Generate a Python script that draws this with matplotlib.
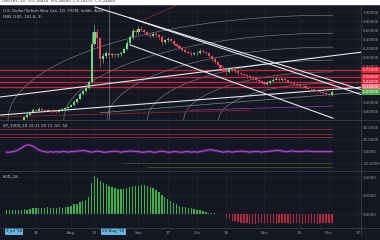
import numpy as np
import pandas as pd
import matplotlib
matplotlib.use('Agg')
import matplotlib.pyplot as plt
from matplotlib.lines import Line2D
from matplotlib.patches import Rectangle

# USD/TRY daily candles, 2 Jul 2018 .. 4 Dec 2018
close_px = [4.56, 4.58, 4.57, 4.59, 4.58, 4.61, 4.66, 4.72, 4.78, 4.83, 4.81, 4.85, 4.83, 4.80, 4.82, 4.79,
            4.81, 4.78, 4.81, 4.84, 4.86, 4.89,
            4.93, 5.00, 5.07, 5.18, 5.25, 5.31, 5.44, 6.30, 6.55, 6.42, 5.95, 6.02, 6.08, 6.05, 6.07, 6.04,
            6.06, 6.10, 6.18, 6.32, 6.45, 6.58, 6.55,
            6.62, 6.60, 6.55, 6.50, 6.47, 6.52, 6.49, 6.45, 6.33, 6.37, 6.40, 6.36, 6.30, 6.25, 6.20, 6.16,
            6.12, 6.10, 6.06, 6.08,
            6.10, 6.14, 6.12, 6.08, 6.02, 5.95, 5.88, 5.82, 5.76, 5.70, 5.66, 5.74, 5.71, 5.68, 5.64, 5.62,
            5.60, 5.57, 5.55, 5.53, 5.50, 5.46, 5.44,
            5.40, 5.43, 5.47, 5.50, 5.52, 5.49, 5.51, 5.48, 5.44, 5.42, 5.40, 5.38, 5.36, 5.35, 5.32, 5.30,
            5.29, 5.26, 5.24, 5.22, 5.20, 5.18,
            5.16, 5.23]
high_px = [4.58, 4.60, 4.60, 4.61, 4.61, 4.63, 4.68, 4.75, 4.80, 4.86, 4.85, 4.88, 4.87, 4.85, 4.85, 4.83,
           4.84, 4.83, 4.84, 4.87, 4.89, 4.92,
           4.96, 5.04, 5.10, 5.22, 5.29, 5.36, 5.50, 6.55, 6.72, 6.62, 6.45, 6.10, 6.14, 6.12, 6.10, 6.09,
           6.10, 6.14, 6.22, 6.38, 6.50, 6.64, 6.62,
           6.68, 6.68, 6.63, 6.58, 6.53, 6.56, 6.55, 6.52, 6.48, 6.41, 6.44, 6.42, 6.38, 6.32, 6.27, 6.22,
           6.19, 6.15, 6.13, 6.12,
           6.14, 6.18, 6.17, 6.14, 6.10, 6.05, 5.98, 5.91, 5.85, 5.79, 5.73, 5.78, 5.77, 5.74, 5.70, 5.67,
           5.65, 5.63, 5.59, 5.58, 5.55, 5.52, 5.49,
           5.46, 5.46, 5.50, 5.53, 5.55, 5.54, 5.53, 5.53, 5.50, 5.46, 5.44, 5.42, 5.40, 5.38, 5.37, 5.34,
           5.32, 5.31, 5.28, 5.26, 5.24, 5.22,
           5.20, 5.26]
low_px = [4.53, 4.55, 4.55, 4.56, 4.56, 4.57, 4.60, 4.65, 4.71, 4.76, 4.78, 4.80, 4.81, 4.78, 4.79, 4.77,
          4.78, 4.76, 4.77, 4.80, 4.83, 4.85,
          4.88, 4.92, 4.98, 5.06, 5.16, 5.23, 5.29, 5.42, 6.25, 6.20, 5.78, 5.86, 5.97, 6.00, 6.01, 6.00,
          6.01, 6.03, 6.08, 6.15, 6.28, 6.40, 6.48,
          6.52, 6.55, 6.53, 6.46, 6.42, 6.44, 6.45, 6.41, 6.27, 6.30, 6.34, 6.33, 6.27, 6.22, 6.17, 6.13,
          6.08, 6.06, 6.03, 6.04,
          6.05, 6.07, 6.09, 6.05, 5.99, 5.92, 5.85, 5.79, 5.72, 5.66, 5.61, 5.64, 5.68, 5.64, 5.61, 5.58,
          5.57, 5.54, 5.52, 5.49, 5.47, 5.43, 5.41,
          5.37, 5.38, 5.41, 5.45, 5.48, 5.46, 5.47, 5.45, 5.42, 5.39, 5.38, 5.35, 5.33, 5.32, 5.29, 5.28,
          5.26, 5.23, 5.21, 5.19, 5.17, 5.15,
          5.13, 5.14]
first_open = 4.55

# oscillator histogram in the bottom pane
hist_val = [0.10, 0.11, 0.10, 0.12, 0.11, 0.12, 0.13, 0.12, 0.13, 0.15, 0.16, 0.17, 0.16, 0.17, 0.18, 0.17,
            0.16, 0.17, 0.18, 0.17, 0.18, 0.19,
            0.22, 0.26, 0.28, 0.32, 0.35, 0.38, 0.46, 0.85, 1.02, 0.98, 0.90, 0.85, 0.80, 0.76, 0.72, 0.70,
            0.68, 0.67, 0.68, 0.70, 0.72, 0.75, 0.76,
            0.77, 0.78, 0.78, 0.76, 0.74, 0.70, 0.66, 0.60, 0.52, 0.46, 0.40, 0.35, 0.30, 0.26, 0.22, 0.20,
            0.18, 0.17, 0.16, 0.14,
            0.12, 0.10, 0.08, 0.06, 0.04, 0.03, 0.02, 0.01, 0.01, 0.00, -0.10, -0.14, -0.18, -0.20, -0.22,
            -0.24, -0.25, -0.25, -0.26, -0.26, -0.26, -0.25, -0.25,
            -0.25, -0.24, -0.24, -0.25, -0.26, -0.25, -0.24, -0.25, -0.25, -0.26, -0.25, -0.24, -0.25,
            -0.26, -0.25, -0.24, -0.25, -0.25, -0.26, -0.25, -0.24, -0.25,
            -0.25, -0.24]

# magenta line of the middle indicator pane
osc_val = [-2, -2, -1, 0, 2, 5, 8, 10, 10, 8, 5, 2, 0, -1, -2, -1, -2, -1, -2, -1, -1, -2,
           -1, -1, 0, 0, 1, 0, -1, -2, -1, 0, -1, -2, -2, -1, -1, 0, -1, -2, -1, -1, 0, 0, -1,
           -1, -2, -2, -1, -1, -2, -2, -1, 0, -1, -2, -2, -1, -1, -2, -2, -1, -1, -2, -1,
           -2, -1, 0, 1, 2, 2, 1, 0, -1, -2, -1, -1, -2, -1, -1, 0, -1, -1, -2, -1, -1, -1, -2,
           -1, -1, 0, 0, 1, 1, 0, -1, -1, 0, 0, -1, -1, -1, 0, 0, -1, -1, -1, -1, -1, -1,
           -1, -1]
osc_levels = [36.7, 28.3, 23.3]

# horizontal price levels (red) and last price (green)
red_levels = [5.71, 5.56, 5.44, 5.33]
red_box_cols = ['#ff1f35', '#e8283c', '#d92a3a', '#f0707e']
last_price = 5.23

# hand-drawn trend lines: (bar0, price0, bar1, price1)
white_lines = [(30.2, 7.11, 121.3, 5.27),
               (42.1, 6.87, 121.3, 5.16),
               (42.1, 6.27, 111.4, 4.64),
               (-2.3, 5.11, 121.3, 6.11),
               (-2.3, 4.71, 121.3, 5.33)]
grey_lines = [(31.9, 4.76, 121.3, 5.22)]
dark_red_lines = [(46.5, 6.82, 66.0, 7.38), (-2.3, 4.67, 83.0, 4.82)]
purple_lines = [(62.6, 4.82, 111.4, 4.91)]

# fib arcs: centre bar / price and vertical radii (price units)
arc_centre = (111.4, 4.60)
arc_radii = [2.33, 1.93, 1.62, 1.33, 1.07, 0.82]

main_ticks = [7.0, 6.8, 6.6, 6.4, 6.2, 6.0, 5.8, 5.0, 4.8]
grid_prices = [7.0, 6.8, 6.6, 6.4, 6.2, 6.0, 5.8, 5.6, 5.4, 5.2, 5.0, 4.8]
osc_ticks = [40, 20, 0, -20]
osc_tick_text = ['40.0000', '20.0000', '0.0000', '-20.0000']
hist_ticks = [1.0, 0.5, 0.0]
hist_tick_text = ['1.0000', '0.5000', '0.0000']

date_ticks = ['2018-07-16', '2018-08-01', '2018-08-13', '2018-09-03', '2018-09-17', '2018-10-01',
              '2018-10-15', '2018-11-01', '2018-11-19', '2018-12-03', '2018-12-17']
date_text = ['16', 'Aug', '13', 'Sep', '17', 'Oct', '15', 'Nov', '19', 'Dec', '17']
marked_dates = ['2018-07-03', '2018-08-20']
marked_text = ["3 Jul '18", "20 Aug '18"]

BG = '#131722'
GRID = '#232733'
TXT = '#9598a1'
GREEN = '#6fd884'
RED = '#e84a5f'

days = pd.bdate_range('2018-07-02', periods=130)
def bar_of(d):
    return days.get_loc(pd.Timestamp(d))

x = np.arange(len(close_px))
c = np.array(close_px)
o = np.array([first_open] + close_px[:-1])
hi = np.array(high_px)
lo = np.array(low_px)
XL = (-2.25, 120.95)

fig = plt.figure(figsize=(3.8, 2.4), dpi=100, facecolor=BG)
ax = fig.add_axes([0, 0.5, 0.95, 0.479])
ax_o = fig.add_axes([0, 0.2875, 0.95, 0.2083])
ax_h = fig.add_axes([0, 0.05, 0.95, 0.2333])

for a in (ax, ax_o, ax_h):
    a.set_facecolor(BG)
    a.set_xlim(*XL)
    for s in a.spines.values():
        s.set_visible(False)
    a.yaxis.tick_right()
    a.tick_params(axis='both', length=0, labelsize=2.9, colors=TXT, pad=1.2)
    for d in date_ticks:
        a.axvline(bar_of(d), color=GRID, lw=0.4, zorder=0)
    a.set_xticks([])

# ---- main price pane ----
ax.set_ylim(4.6, 7.156)
for p in grid_prices:
    ax.axhline(p, color=GRID, lw=0.4, zorder=0)
ax.set_yticks(main_ticks)
ax.set_yticklabels(['%.5f' % t for t in main_ticks])

# fib arcs
t = np.linspace(0, np.pi / 2, 80)
for r in arc_radii:
    ax.plot(arc_centre[0] - 47.6 * r * np.cos(t), arc_centre[1] + r * np.sin(t),
            color='#9da1aa', lw=0.45, alpha=0.75, zorder=1)

for p in red_levels:
    ax.axhline(p, color='#d8243a', lw=1.0, alpha=0.9, zorder=2)
for x0, y0, x1, y1 in dark_red_lines:
    ax.plot([x0, x1], [y0, y1], color='#8a2030', lw=0.6, zorder=2)
for x0, y0, x1, y1 in purple_lines:
    ax.plot([x0, x1], [y0, y1], color='#7a3c9a', lw=0.6, zorder=2)
for x0, y0, x1, y1 in grey_lines:
    ax.plot([x0, x1], [y0, y1], color='#b0b4bc', lw=0.5, alpha=0.7, zorder=2)
for x0, y0, x1, y1 in white_lines:
    ax.plot([x0, x1], [y0, y1], color='#e6e8ec', lw=0.8, zorder=2)

col = np.where(c >= o, GREEN, RED)
ax.vlines(x, lo, hi, colors=col, lw=0.45, zorder=3)
ax.bar(x, np.maximum(np.abs(c - o), 0.01), bottom=np.minimum(o, c), width=0.72,
       color=col, lw=0, zorder=4)

# crosshair-like vertical line
ax.axvline(bar_of(marked_dates[1]), color='#c8ccd4', lw=0.4, alpha=0.7, zorder=2)

ax.text(0.008, 0.965, 'U.S. Dollar/Turkish New Lira, 1D, FXCM, Indikt. Avtd', transform=ax.transAxes,
        fontsize=2.8, color='#c8ccd4', va='top')
ax.text(0.008, 0.915, 'FIBS (100, 161.8, 3)', transform=ax.transAxes,
        fontsize=2.8, color='#c8ccd4', va='top')

for p, bc in zip(red_levels, red_box_cols):
    ax.text(1.004, p, '%.5f' % p, transform=ax.get_yaxis_transform(), fontsize=2.9, color='white',
            va='center', ha='left', clip_on=False,
            bbox=dict(boxstyle='square,pad=0.25', fc=bc, ec='none'))
ax.text(1.004, last_price, '%.5f' % last_price, transform=ax.get_yaxis_transform(), fontsize=2.9,
        color='white', va='center', ha='left', clip_on=False,
        bbox=dict(boxstyle='square,pad=0.25', fc='#4caf50', ec='none'))

# ---- middle oscillator pane ----
ax_o.set_ylim(-33.3, 50)
for v in osc_ticks:
    ax_o.axhline(v, color=GRID, lw=0.4, zorder=0)
ax_o.set_yticks(osc_ticks)
ax_o.set_yticklabels(osc_tick_text)
for v in osc_levels:
    ax_o.plot([XL[0], len(x) - 1], [v, v], color='#a0283a', lw=0.7, alpha=0.8)
ax_o.plot([40, len(x) - 1], [-20, -20], color='#4c6a3a', lw=0.5, alpha=0.7)
ax_o.plot([48, len(x) - 1], [-26.7, -26.7], color='#6b7a3a', lw=0.5, alpha=0.7)
ax_o.plot(x, osc_val, color='#9c2fc0', lw=2.2, alpha=0.35)
ax_o.plot(x, osc_val, color='#c04ae0', lw=0.7)
ax_o.text(0.008, 0.96, 'SP_19DS_18 18 21 00 71 -50 -50', transform=ax_o.transAxes,
          fontsize=2.8, color='#c8ccd4', va='top')

# ---- bottom histogram pane ----
ax_h.set_ylim(-0.378, 1.135)
for v in hist_ticks:
    ax_h.axhline(v, color=GRID, lw=0.4, zorder=0)
ax_h.set_yticks(hist_ticks)
ax_h.set_yticklabels(hist_tick_text)
hv = np.array(hist_val)
ax_h.bar(x, hv, width=0.45, color=np.where(hv >= 0, '#3cb34a', '#b8283e'), lw=0)
ax_h.text(0.008, 0.96, 'VOD_18', transform=ax_h.transAxes,
          fontsize=2.8, color='#c8ccd4', va='top')
ax_h.set_xticks([bar_of(d) for d in date_ticks])
ax_h.set_xticklabels(date_text)
ax_h.tick_params(axis='x', labelsize=3, colors=TXT, pad=2.5, length=0)
for d, s in zip(marked_dates, marked_text):
    ax_h.text(bar_of(d) + 1.5, -0.47, s, fontsize=3, color='#0d2a3a', ha='center', va='center',
              clip_on=False, bbox=dict(boxstyle='square,pad=0.3', fc='#63b6dc', ec='none'))

# pane separators, right scale border, white header strip
for yf in (0.5, 0.2875, 0.05):
    fig.add_artist(Line2D([0, 1], [yf, yf], transform=fig.transFigure, color='#434651', lw=0.5))
fig.add_artist(Line2D([0.95, 0.95], [0.02, 0.98], transform=fig.transFigure, color='#434651', lw=0.5))
fig.add_artist(Rectangle((0, 1 - 4 / 240), 1, 4 / 240, transform=fig.transFigure,
                         color='white', zorder=10))
fig.text(0.005, 1 - 1.5 / 240, 'USDTRY, 1D  O:5.16820  H:5.26690  L:5.14570  C:5.24460',
         fontsize=2.8, color='#333', va='center', zorder=11)

fig.savefig('out.png', dpi=100, facecolor=BG)
